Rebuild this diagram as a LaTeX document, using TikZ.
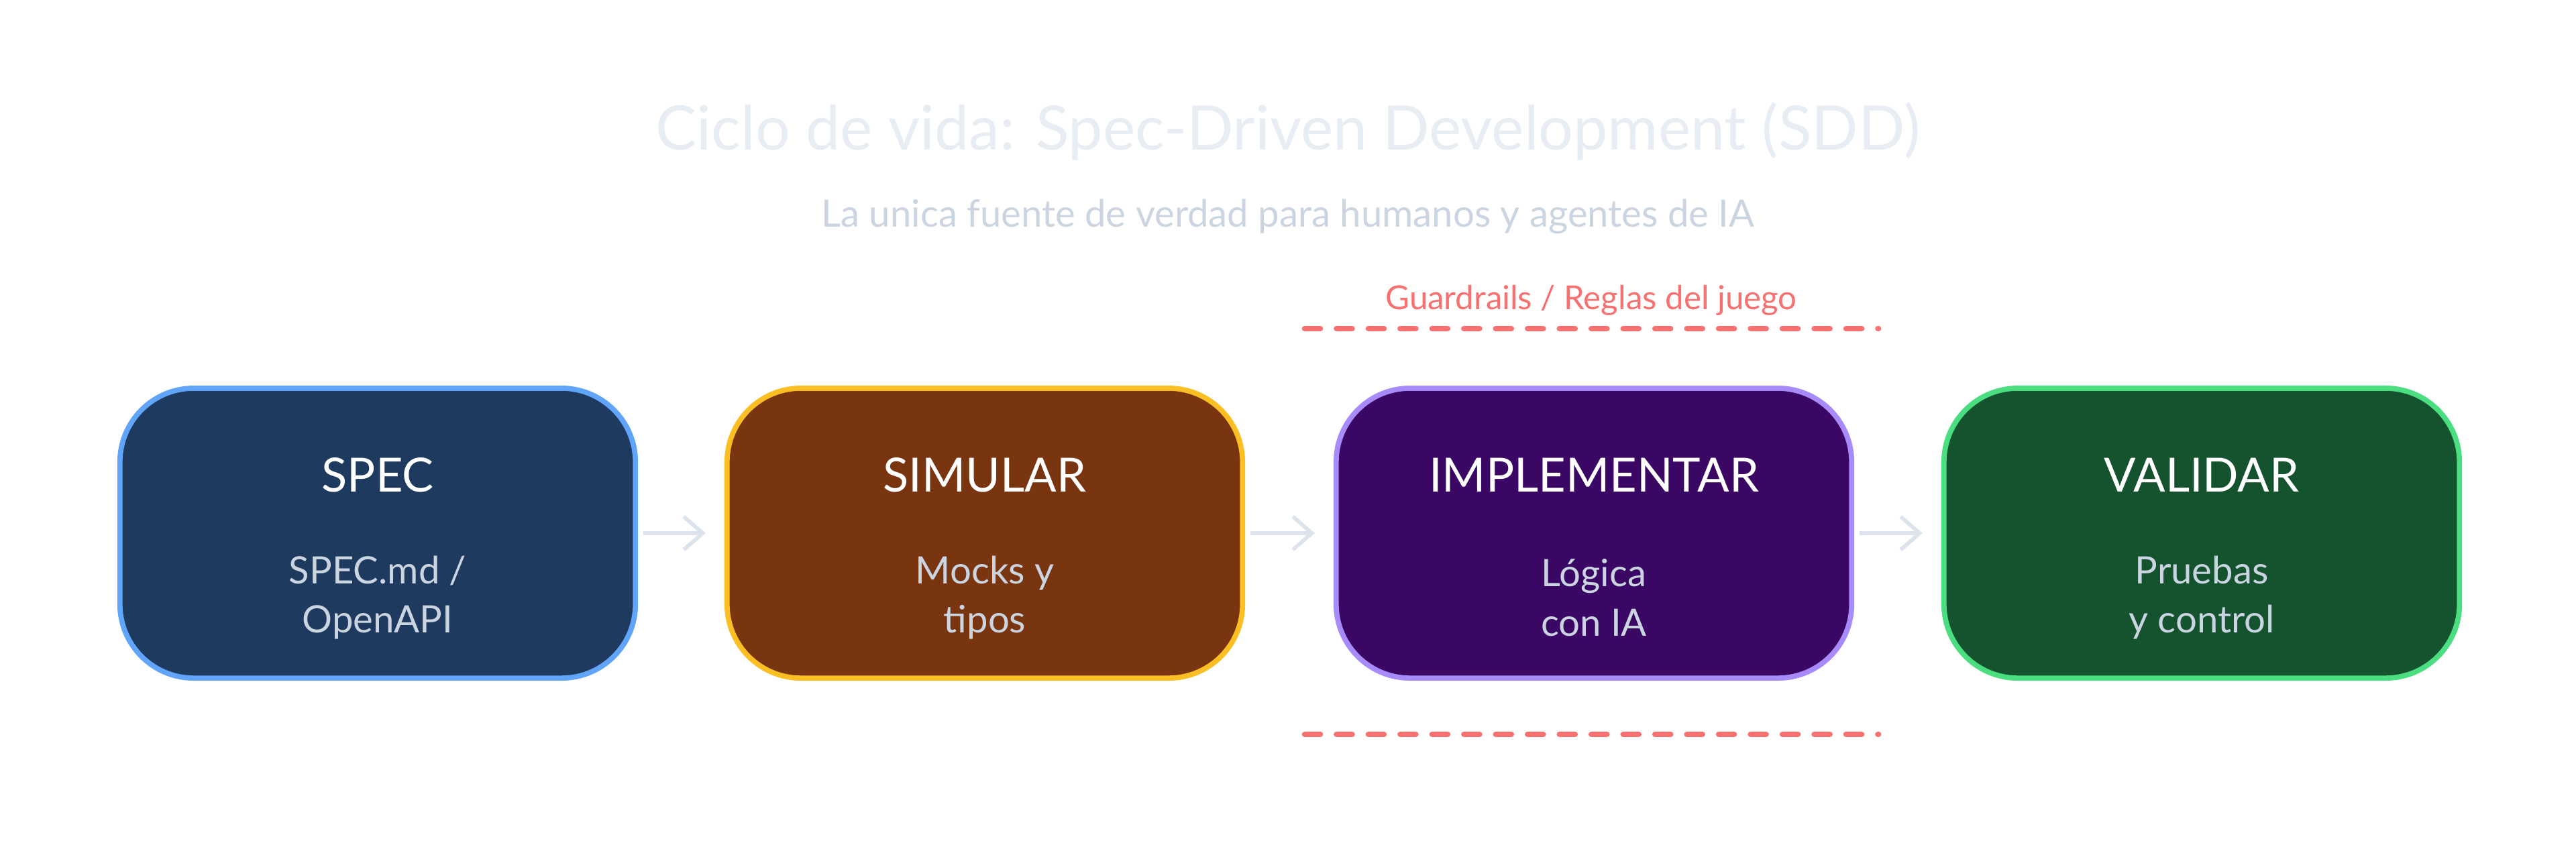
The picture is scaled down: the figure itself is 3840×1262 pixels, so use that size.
\documentclass[tikz,border=0pt]{standalone}
\usepackage{fontspec}
\setmainfont{Lato}
\usetikzlibrary{arrows.meta}
\definecolor{ttl}{HTML}{E8EDF4}
\definecolor{sub}{HTML}{CBD5E1}
\definecolor{arr}{HTML}{DCE3EC}
\definecolor{grd}{HTML}{F87171}
\definecolor{b1d}{HTML}{60A5FA}\definecolor{b1f}{HTML}{1E3A5F}
\definecolor{b2d}{HTML}{FBBF24}\definecolor{b2f}{HTML}{78350F}
\definecolor{b3d}{HTML}{A78BFA}\definecolor{b3f}{HTML}{3B0764}
\definecolor{b4d}{HTML}{4ADE80}\definecolor{b4f}{HTML}{14532D}
\begin{document}
\begin{tikzpicture}[x=0.01cm,y=-0.01cm,
  box/.style={draw, line width=2.2pt, rounded corners=1.1cm, minimum width=7.68cm, minimum height=4.32cm},
  bt/.style={text=white, font=\fontsize{20}{24}\selectfont},
  bs/.style={text=sub, font=\fontsize{16}{21}\selectfont, align=center},
  ar/.style={draw=arr, line width=1.6pt, -{Straight Barb[length=8pt,width=14pt]}},
  dl/.style={draw=grd, line width=2.5pt, line cap=round, dash pattern=on 6.5pt off 7pt}]
\useasboundingbox[fill=white] (0,0) rectangle (3840,1262);
\node[text=ttl, font=\fontsize{26}{30}\selectfont] (title) at (1920,196) {Ciclo de vida: Spec-Driven Development (SDD)};
\node[text=sub, font=\fontsize{16}{20}\selectfont] (subt) at (1920,323) {La unica fuente de verdad para humanos y agentes de IA};
\node[text=grd, font=\fontsize{14}{18}\selectfont] (gr) at (2372,448) {Guardrails / Reglas del juego};
\coordinate (d1a) at (1945,490); \coordinate (d1b) at (2800,490);
\coordinate (d2a) at (1945,1095); \coordinate (d2b) at (2800,1095);
\draw[dl] (d1a) -- (d1b);
\draw[dl] (d2a) -- (d2b);
\node[box, draw=b1d, fill=b1f] (spec) at (563,795) {};
\node[box, draw=b2d, fill=b2f] (sim) at (1468,795) {};
\node[box, draw=b3d, fill=b3f] (imp) at (2376,795) {};
\node[box, draw=b4d, fill=b4f] (val) at (3282,795) {};
\node[bt] (t1) at (563,708) {SPEC};
\node[bt] (t2) at (1468,708) {SIMULAR};
\node[bt] (t3) at (2376,708) {IMPLEMENTAR};
\node[bt] (t4) at (3282,708) {VALIDAR};
\node[bs] (s1) at (563,891) {SPEC.md /\\OpenAPI};
\node[bs] (s2) at (1468,891) {Mocks y\\tipos};
\node[bs] (s3) at (2376,891) {Lógica\\con IA};
\node[bs] (s4) at (3282,891) {Pruebas\\y control};
\draw[ar] (spec.east) ++(8,0) -- ([xshift=-8]sim.west);
\draw[ar] (sim.east) ++(8,0) -- ([xshift=-8]imp.west);
\draw[ar] (imp.east) ++(8,0) -- ([xshift=-8]val.west);
\end{tikzpicture}
\end{document}
